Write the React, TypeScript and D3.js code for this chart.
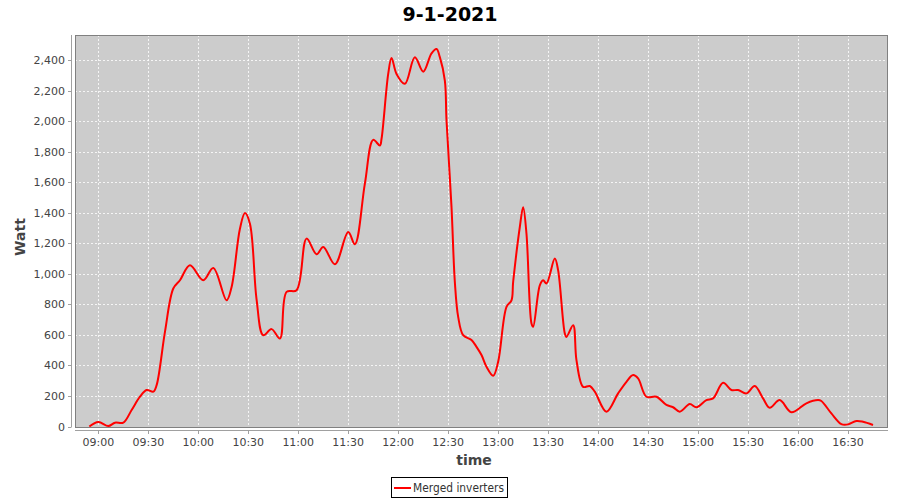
import React from "react";
import * as d3 from "d3";

const times: string[] = [
  "08:54:36","09:00","09:06","09:10","09:15","09:20","09:25","09:29","09:33","09:35","09:40","09:45","09:49","09:55",
  "10:03","10:09","10:17","10:20","10:25","10:28","10:31","10:35","10:39","10:44","10:49","10:53","10:59",
  "11:05","11:11","11:15","11:22","11:30","11:34","11:40","11:45","11:49","11:50","11:54","11:56","11:59",
  "12:04","12:10","12:15","12:20","12:23","12:25","12:28","12:29","12:32","12:34","12:36","12:39","12:44","12:47","12:50","12:53","12:57",
  "13:00","13:05","13:08","13:09","13:13","13:15","13:17","13:20","13:21","13:25","13:27","13:29","13:34","13:36","13:40","13:41","13:45","13:47","13:51","13:55","13:58",
  "14:05","14:12","14:17","14:21","14:24","14:29","14:35","14:41","14:45","14:49","14:55","14:59",
  "15:05","15:09","15:15","15:20","15:24","15:29","15:34","15:39","15:43","15:49","15:56",
  "16:05","16:12","16:14","16:20","16:26","16:30","16:35","16:39","16:45"
];
const watts: number[] = [
  0,30,3,25,25,108,195,239,228,271,620,904,958,1056,
  958,1039,827,914,1296,1398,1329,832,598,638,577,882,893,
  1231,1128,1176,1063,1274,1194,1591,1878,1841,1885,2310,2415,2310,
  2245,2419,2325,2445,2473,2420,2266,2005,1437,947,718,598,566,522,468,391,332,
  424,784,827,947,1307,1437,1263,675,653,925,958,937,1100,1023,610,587,664,435,260,265,228,
  97,217,293,337,315,195,195,141,126,97,147,126,
  173,184,286,239,239,217,265,184,123,173,93,
  152,173,167,86,16,14,36,31,10
];
const xTickLabels: string[] = ["09:00","09:30","10:00","10:30","11:00","11:30","12:00","12:30","13:00","13:30","14:00","14:30","15:00","15:30","16:00","16:30"];
const yTicks: number[] = [0,200,400,600,800,1000,1200,1400,1600,1800,2000,2200,2400];
const title = "9-1-2021";
const seriesName = "Merged inverters";

const toMin = (s: string) => {
  const p = s.split(":").map(Number);
  return p[0] * 60 + p[1] + (p[2] || 0) / 60;
};

export default function App() {
  const W = 900, H = 500;
  const left = 75, right = 888, top = 35, bottom = 427;
  const x = d3.scaleLinear().domain([toMin("08:46"), toMin("16:54")]).range([left, right]);
  const y = d3.scaleLinear().domain([0, 2565]).range([bottom - 0.5, top]);
  const data = times.map((t, i) => ({ t: toMin(t), v: watts[i] }));
  const line = d3.line<{ t: number; v: number }>().x(d => x(d.t)).y(d => y(d.v)).curve(d3.curveCatmullRom.alpha(0.5));
  const font = "'DejaVu Sans', sans-serif";
  return (
    <svg width={W} height={H} style={{ position: "absolute", left: 0, top: 0 }} fontFamily={font}>
      <rect x={0} y={0} width={W} height={H} fill="#fff" />
      <text x={450} y={21} textAnchor="middle" fontSize={19} fontWeight="bold" fill="#000">{title}</text>
      <rect x={left} y={top} width={right - left} height={bottom - top} fill="#cccccc" />
      {yTicks.map(v => (
        <line key={"gy" + v} x1={left} x2={right} y1={Math.round(y(v)) + 0.5} y2={Math.round(y(v)) + 0.5} stroke="#fff" strokeWidth={0.8} strokeDasharray="2,2" />
      ))}
      {xTickLabels.map(s => (
        <line key={"gx" + s} x1={Math.round(x(toMin(s))) + 0.5} x2={Math.round(x(toMin(s))) + 0.5} y1={top} y2={bottom} stroke="#fff" strokeWidth={0.8} strokeDasharray="2,2" />
      ))}
      <path d={line(data) || ""} fill="none" stroke="#ff0000" strokeWidth={2} strokeLinejoin="round" />
      <rect x={left + 0.5} y={top + 0.5} width={right - left - 1} height={bottom - top} fill="none" stroke="#808080" strokeWidth={1} />
      {/* y axis */}
      <line x1={71.5} x2={71.5} y1={top} y2={bottom} stroke="#a0a0a0" />
      {yTicks.map(v => (
        <g key={"yt" + v}>
          <line x1={68} x2={71.5} y1={Math.round(y(v)) + 0.5} y2={Math.round(y(v)) + 0.5} stroke="#a0a0a0" />
          <text x={65} y={y(v) + 4} textAnchor="end" fontSize={11} fill="#444">{d3.format(",")(v)}</text>
        </g>
      ))}
      {/* x axis */}
      <line x1={left} x2={right} y1={430.5} y2={430.5} stroke="#a0a0a0" />
      {xTickLabels.map(s => (
        <g key={"xt" + s}>
          <line x1={Math.round(x(toMin(s))) + 0.5} x2={Math.round(x(toMin(s))) + 0.5} y1={430.5} y2={434} stroke="#a0a0a0" />
          <text x={x(toMin(s))} y={446} textAnchor="middle" fontSize={11} fill="#444">{s}</text>
        </g>
      ))}
      <text x={474} y={465} textAnchor="middle" fontSize={14} fontWeight="bold" fill="#444">time</text>
      <text transform="translate(25,237) rotate(-90)" textAnchor="middle" fontSize={14} fontWeight="bold" fill="#444">Watt</text>
      {/* legend */}
      <rect x={391.5} y={477.5} width={116} height={20} fill="#fff" stroke="#000" />
      <line x1={394} x2={411} y1={488} y2={488} stroke="#ff0000" strokeWidth={2} />
      <text x={413} y={492} fontSize={11.5} fill="#333" textLength={91} lengthAdjust="spacingAndGlyphs">{seriesName}</text>
    </svg>
  );
}
